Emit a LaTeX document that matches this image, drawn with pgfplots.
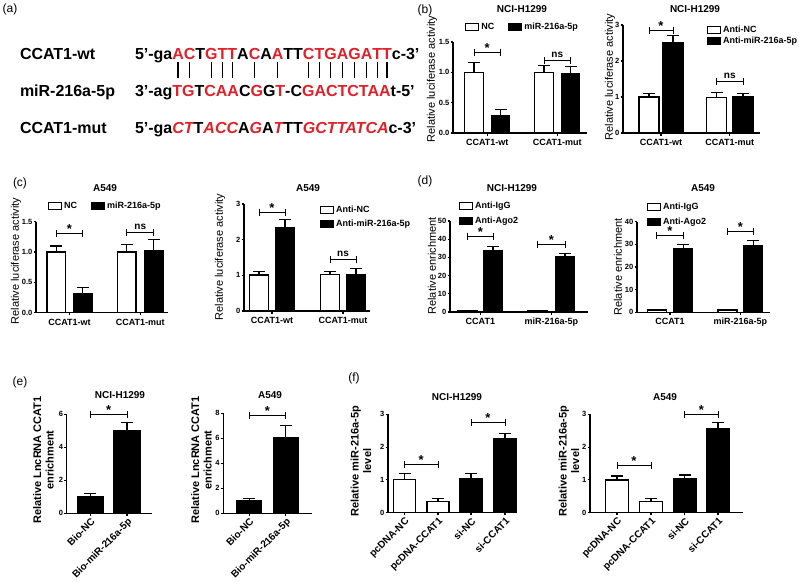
\documentclass[border=0pt]{standalone}
\usepackage{fontspec}
\setmainfont{Liberation Sans}
\usepackage{pgfplots}
\pgfplotsset{compat=1.18}
\pgfplotsset{/pgf/number format/assume math mode=true}
\definecolor{seqred}{RGB}{226,32,40}

\newcommand\ytf{\bfseries\fontsize{7.5}{8}\selectfont}
\newcommand\xtf{\bfseries\fontsize{9}{10}\selectfont}
\newcommand\xrf{\bfseries\fontsize{10}{11}\selectfont}
\newcommand\lgf{\bfseries\fontsize{9}{10}\selectfont}
\newcommand\ttf{\bfseries\fontsize{10}{12}\selectfont}
\newcommand\ylf{\fontsize{11}{13}\selectfont}
\newcommand\ylbf{\bfseries\fontsize{11}{12.5}\selectfont}
\newcommand\plf{\fontsize{12}{14}\selectfont}
\newcommand\sqf{\bfseries\fontsize{16}{18}\selectfont}
\newcommand\sgf{\bfseries\fontsize{13}{14}\selectfont}
\newcommand\nsf{\bfseries\fontsize{10}{11}\selectfont}

% significance bracket: x1, x2, y, label
\newcommand\sig[4]{%
  \draw[line width=1pt] (axis cs:#1,#3) -- (axis cs:#2,#3);
  \draw[line width=1pt] (axis cs:#1,#3) ++(0pt,-3.5pt) -- ++(0pt,7pt);
  \draw[line width=1pt] (axis cs:#2,#3) ++(0pt,-3.5pt) -- ++(0pt,7pt);
  \path (axis cs:#1,#3) -- node[anchor=base, font=\sgf, yshift=0pt, inner sep=0pt] {#4} (axis cs:#2,#3);
}

\pgfplotsset{
  boxleg/.style={legend image code/.code={\draw[##1, line width=1pt] (0pt,-3.5pt) rectangle (13pt,3.5pt);}},
  wbar/.style={ybar, bar shift=0pt, bar width=#1, fill=white, draw=black, line width=1.2pt, boxleg},
  bbar/.style={ybar, bar shift=0pt, bar width=#1, fill=black, draw=black, line width=1.2pt, boxleg},
  errs/.style={error bars/.cd, y dir=plus, y explicit,
    error bar style={line width=1.1pt, black},
    error mark options={rotate=90, line width=1.1pt, mark size=6pt, black}},
  gp/.style={scale only axis, axis lines=left, axis line style={-, line width=1.2pt},
    clip=false, xmin=0, ymin=0, tick align=outside, major tick length=2.5pt,
    every tick/.style={black, line width=1.1pt},
    yticklabel style={font=\ytf, inner sep=1pt},
    xticklabel style={font=\xtf},
    legend style={draw=none, fill=none, inner sep=0pt, font=\lgf, cells={anchor=west}}},
  rotx/.style={xticklabel style={rotate=45, anchor=north east, font=\xrf, inner sep=1pt}},
}

\begin{document}
\begin{tikzpicture}[x=1pt, y=1pt]
\useasboundingbox (0,0) rectangle (799,-581);

% ---------- (a) sequences
\node[font=\plf] at (10,-9) {(a)};
\begin{scope}[every node/.style={inner sep=0pt, outer sep=0pt, font=\sqf}]
  \node[anchor=base west] at (20,-59.3) {CCAT1-wt};
  \node[anchor=base west] at (20,-96.7) {miR-216a-5p};
  \node[anchor=base west] at (20,-133.3) {CCAT1-mut};
  \node[anchor=base west] (s0) at (135,-59.3) {5'-ga};
  \foreach \l/\c [count=\i, evaluate=\i as \j using int(\i-1)] in
    {A/seqred,C/seqred,T/black,G/seqred,T/seqred,T/seqred,A/black,C/seqred,A/black,A/seqred,
     T/black,T/black,C/seqred,T/seqred,G/seqred,A/seqred,G/seqred,A/seqred,T/seqred,T/seqred}
    \node[anchor=base west, text=\c] (s\i) at (s\j.base east) {\l};
  \node[anchor=base west] at (s20.base east) {c-3'};
  \foreach \i in {1,2,4,5,6,8,10,13,14,15,16,17,18,19,20}
    \draw[line width=1.3pt] (s\i.base) ++(0pt,-3pt) -- ++(0pt,-16pt);
  \node[anchor=base west] at (135,-96.7) {3'-ag\textcolor{seqred}{TG}T\textcolor{seqred}{CAA}C\textcolor{seqred}{G}G\textcolor{seqred}{T}-C\textcolor{seqred}{GACTCTAA}t-5'};
  \node[anchor=base west] at (135,-133.3) {5'-ga\textcolor{seqred}{\itshape CT}T\textcolor{seqred}{\itshape ACC}A\textcolor{seqred}{\itshape G}A\textcolor{seqred}{\itshape T}TT\textcolor{seqred}{\itshape GCTTATCA}c-3'};
\end{scope}

% ---------- panel labels, titles, y labels
\node[font=\plf] at (425,-10) {(b)};
\node[font=\plf] at (20,-183) {(c)};
\node[font=\plf] at (425,-181) {(d)};
\node[font=\plf] at (20,-382) {(e)};
\node[font=\plf] at (354,-378) {(f)};

\node[font=\ttf] at (522,-9) {NCI-H1299};
\node[font=\ttf] at (695,-9) {NCI-H1299};
\node[font=\ttf] at (105,-188) {A549};
\node[font=\ttf] at (308,-188) {A549};
\node[font=\ttf] at (512,-188) {NCI-H1299};
\node[font=\ttf] at (703,-188) {A549};
\node[font=\ttf] at (120,-395) {NCI-H1299};
\node[font=\ttf] at (270,-395) {A549};
\node[font=\ttf] at (457,-397) {NCI-H1299};
\node[font=\ttf] at (665,-397) {A549};

\node[font=\ylf, rotate=90] at (432,-79) {Relative luciferase activity};
\node[font=\ylf, rotate=90] at (610,-77) {Relative luciferase activity};
\node[font=\ylf, rotate=90] at (16,-261) {Relative luciferase activity};
\node[font=\ylf, rotate=90] at (220,-257) {Relative luciferase activity};
\node[font=\ylf, rotate=90] at (432,-266) {Relative enrichment};
\node[font=\ylf, rotate=90] at (618,-267) {Relative enrichment};
\node[font=\ylbf, rotate=90, align=center] at (43.5,-460) {Relative LncRNA CCAT1\\enrichment};
\node[font=\ylbf, rotate=90, align=center] at (201.5,-460) {Relative LncRNA CCAT1\\enrichment};
\node[font=\ylbf, rotate=90, align=center] at (361,-461) {Relative miR-216a-5p\\level};
\node[font=\ylbf, rotate=90, align=center] at (569,-461) {Relative miR-216a-5p\\level};

% ---------- (b) left
\begin{axis}[gp, at={(453pt,-133pt)}, anchor=south west, width=134pt, height=91pt,
  xmax=134, ymax=1.5, ytick={0,0.5,1,1.5},
  yticklabel style={/pgf/number format/.cd, fixed, fixed zerofill, precision=1},
  xtick={34.25,104.25}, xticklabels={CCAT1-wt,CCAT1-mut},
  legend columns=2,
  legend style={at={(axis description cs:0.09,1.165)}, anchor=west,
    /tikz/every even column/.append style={column sep=12pt}}]
  \addplot[wbar=18.5pt, errs] coordinates {(21,1.0) +- (0,0.16) (91,1.0) +- (0,0.12)};
  \addlegendentry{NC}
  \addplot[bbar=18.5pt, errs] coordinates {(47.5,0.28) +- (0,0.1) (117.5,0.98) +- (0,0.11)};
  \addlegendentry{miR-216a-5p}
  \sig{21}{47.5}{1.32}{*}
  \sig{91}{117.5}{1.19}{\raisebox{3pt}{\nsf ns}}
\end{axis}

% ---------- (b) right
\begin{axis}[gp, at={(623pt,-133pt)}, anchor=south west, width=137pt, height=108pt,
  xmax=137, ymax=3, ytick={0,1,2,3},
  xtick={38,106.75}, xticklabels={CCAT1-wt,CCAT1-mut},
  legend style={at={(axis description cs:0.613,1.01)}, anchor=north west, row sep=-1pt}]
  \addplot[wbar=20pt, errs] coordinates {(26,1.0) +- (0,0.1) (93.5,0.99) +- (0,0.13)};
  \addlegendentry{Anti-NC}
  \addplot[bbar=20pt, errs] coordinates {(50,2.51) +- (0,0.19) (120,1.0) +- (0,0.1)};
  \addlegendentry{Anti-miR-216a-5p}
  \sig{26}{50}{2.86}{*}
  \sig{93.5}{120}{1.44}{\raisebox{3pt}{\nsf ns}}
\end{axis}

% ---------- (c) left
\begin{axis}[gp, at={(36pt,-312.7pt)}, anchor=south west, width=132pt, height=91pt,
  xmax=132, ymax=1.5, ytick={0,0.5,1,1.5},
  yticklabel style={/pgf/number format/.cd, fixed, fixed zerofill, precision=1},
  xtick={33.5,104.25}, xticklabels={CCAT1-wt,CCAT1-mut},
  legend columns=2,
  legend style={at={(axis description cs:0.09,1.17)}, anchor=west,
    /tikz/every even column/.append style={column sep=12pt}}]
  \addplot[wbar=18.5pt, errs] coordinates {(20.2,1.0) +- (0,0.1) (90.8,1.0) +- (0,0.13)};
  \addlegendentry{NC}
  \addplot[bbar=18.5pt, errs] coordinates {(46.8,0.31) +- (0,0.1) (117.7,1.03) +- (0,0.17)};
  \addlegendentry{miR-216a-5p}
  \sig{20.2}{46.8}{1.31}{*}
  \sig{90.8}{117.7}{1.32}{\raisebox{3pt}{\nsf ns}}
\end{axis}

% ---------- (c) right
\begin{axis}[gp, at={(244pt,-311pt)}, anchor=south west, width=126pt, height=107pt,
  xmax=126, ymax=3, ytick={0,1,2,3},
  xtick={28,99}, xticklabels={CCAT1-wt,CCAT1-mut},
  legend style={at={(axis description cs:0.603,1.0)}, anchor=north west, row sep=2pt}]
  \addplot[wbar=19pt, errs] coordinates {(15,1.01) +- (0,0.09) (86,1.02) +- (0,0.1)};
  \addlegendentry{Anti-NC}
  \addplot[bbar=19pt, errs] coordinates {(41,2.35) +- (0,0.22) (112,1.02) +- (0,0.17)};
  \addlegendentry{Anti-miR-216a-5p}
  \sig{15}{41}{2.77}{*}
  \sig{86}{112}{1.45}{\raisebox{3pt}{\nsf ns}}
\end{axis}

% ---------- (d) left
\begin{axis}[gp, at={(450pt,-312pt)}, anchor=south west, width=138pt, height=91pt,
  xmax=138, ymax=50, ytick={0,10,...,50},
  xtick={30.4,101.4}, xticklabels={CCAT1,miR-216a-5p},
  legend style={at={(axis description cs:0.065,1.236)}, anchor=north west, row sep=3pt}]
  \addplot[wbar=19.5pt] coordinates {(17.8,1) (87.8,1)};
  \addlegendentry{Anti-IgG}
  \addplot[bbar=19.5pt, errs] coordinates {(43,33.5) +- (0,2.5) (115,30.5) +- (0,1.5)};
  \addlegendentry{Anti-Ago2}
  \sig{17.8}{43}{41.6}{*}
  \sig{87.8}{115}{37.2}{*}
\end{axis}

% ---------- (d) right
\begin{axis}[gp, at={(637pt,-312.3pt)}, anchor=south west, width=133pt, height=90.7pt,
  xmax=133, ymax=40, ytick={0,10,...,40},
  xtick={33,103.4}, xticklabels={CCAT1,miR-216a-5p},
  legend style={at={(axis description cs:0.075,1.235)}, anchor=north west, row sep=3pt}]
  \addplot[wbar=19pt] coordinates {(19.7,1) (90.5,1)};
  \addlegendentry{Anti-IgG}
  \addplot[bbar=19pt, errs] coordinates {(46.3,27.9) +- (0,2.2) (116.3,29.2) +- (0,2.6)};
  \addlegendentry{Anti-Ago2}
  \sig{19.7}{46.3}{33.8}{*}
  \sig{90.5}{116.3}{35.5}{*}
\end{axis}

% ---------- (e) left
\begin{axis}[gp, rotx, at={(66.7pt,-513.3pt)}, anchor=south west, width=85pt, height=99pt,
  xmax=85, ymax=6, ytick={0,2,4,6},
  xtick={23.6,60.3}, xticklabels={Bio-NC,Bio-miR-216a-5p}]
  \addplot[bbar=26pt, errs] coordinates {(23.6,1.0) +- (0,0.2) (60.3,5.0) +- (0,0.5)};
  \sig{23.6}{60.3}{6.0}{*}
\end{axis}

% ---------- (e) right
\begin{axis}[gp, rotx, at={(223.3pt,-513.3pt)}, anchor=south west, width=88.4pt, height=100pt,
  xmax=88.4, ymax=8, ytick={0,2,...,8},
  xtick={25.9,62.5}, xticklabels={Bio-NC,Bio-miR-216a-5p}]
  \addplot[bbar=25pt, errs] coordinates {(25.9,1.05) +- (0,0.15) (62.5,6.05) +- (0,0.95)};
  \sig{25.9}{62.5}{7.8}{*}
\end{axis}

% ---------- (f) left
\begin{axis}[gp, rotx, at={(388pt,-512.7pt)}, anchor=south west, width=129pt, height=98.4pt,
  xmax=129, ymax=3, ytick={0,1,2,3},
  xtick={16.5,50,83,117}, xticklabels={pcDNA-NC,pcDNA-CCAT1,si-NC,si-CCAT1}]
  \addplot[wbar=22pt, errs] coordinates {(16.5,1.02) +- (0,0.18) (50,0.34) +- (0,0.1)};
  \addplot[bbar=22pt, errs] coordinates {(83,1.05) +- (0,0.15) (117,2.25) +- (0,0.17)};
  \sig{16.5}{50}{1.48}{*}
  \sig{83}{117}{2.76}{*}
\end{axis}

% ---------- (f) right
\begin{axis}[gp, rotx, at={(590pt,-512.7pt)}, anchor=south west, width=153pt, height=98.4pt,
  xmax=153, ymax=3, ytick={0,1,2,3},
  xtick={27,61,94.7,128}, xticklabels={pcDNA-NC,pcDNA-CCAT1,si-NC,si-CCAT1}]
  \addplot[wbar=22.5pt, errs] coordinates {(27,1.0) +- (0,0.12) (61,0.34) +- (0,0.1)};
  \addplot[bbar=22.5pt, errs] coordinates {(94.7,1.03) +- (0,0.12) (128,2.55) +- (0,0.2)};
  \sig{27}{61}{1.45}{*}
  \sig{94.7}{128}{3.0}{*}
\end{axis}
\end{tikzpicture}
\end{document}
